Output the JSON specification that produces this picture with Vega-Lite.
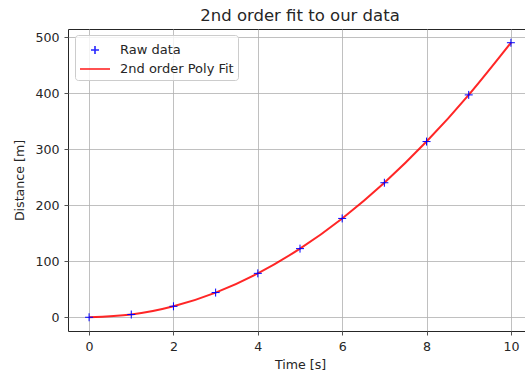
{
  "$schema": "https://vega.github.io/schema/vega-lite/v6.json",
  "width": 464,
  "height": 302,
  "autosize": {"type": "none"},
  "padding": {"left": 68, "top": 29, "right": 0, "bottom": 50},
  "background": "white",
  "title": {"text": "2nd order fit to our data", "font": "DejaVu Sans", "fontSize": 16.5, "fontWeight": "normal", "color": "#262626", "offset": 5, "anchor": "middle"},
  "data": {"values": [
    {"t": 0, "d": 0, "series": "Raw data"},
    {"t": 1, "d": 4.9, "series": "Raw data"},
    {"t": 2, "d": 19.6, "series": "Raw data"},
    {"t": 3, "d": 44.1, "series": "Raw data"},
    {"t": 4, "d": 78.4, "series": "Raw data"},
    {"t": 5, "d": 122.5, "series": "Raw data"},
    {"t": 6, "d": 176.4, "series": "Raw data"},
    {"t": 7, "d": 240.1, "series": "Raw data"},
    {"t": 8, "d": 313.6, "series": "Raw data"},
    {"t": 9, "d": 396.9, "series": "Raw data"},
    {"t": 10, "d": 490, "series": "Raw data"},
    {"t": 0, "d": 0, "series": "2nd order Poly Fit"},
    {"t": 1, "d": 4.9, "series": "2nd order Poly Fit"},
    {"t": 2, "d": 19.6, "series": "2nd order Poly Fit"},
    {"t": 3, "d": 44.1, "series": "2nd order Poly Fit"},
    {"t": 4, "d": 78.4, "series": "2nd order Poly Fit"},
    {"t": 5, "d": 122.5, "series": "2nd order Poly Fit"},
    {"t": 6, "d": 176.4, "series": "2nd order Poly Fit"},
    {"t": 7, "d": 240.1, "series": "2nd order Poly Fit"},
    {"t": 8, "d": 313.6, "series": "2nd order Poly Fit"},
    {"t": 9, "d": 396.9, "series": "2nd order Poly Fit"},
    {"t": 10, "d": 490, "series": "2nd order Poly Fit"}
  ]},
  "encoding": {
    "x": {"field": "t", "type": "quantitative", "scale": {"domain": [-0.5, 10.5], "nice": false, "zero": false},
      "axis": {"title": "Time [s]", "values": [0, 2, 4, 6, 8, 10]}},
    "y": {"field": "d", "type": "quantitative", "scale": {"domain": [-24.5, 514.5], "nice": false, "zero": false},
      "axis": {"title": "Distance [m]", "values": [0, 100, 200, 300, 400, 500]}},
    "color": {"field": "series", "type": "nominal",
      "scale": {"domain": ["Raw data", "2nd order Poly Fit"], "range": ["#0000ff", "#ff0000"]},
      "legend": {"title": null}}
  },
  "layer": [
    {
      "transform": [{"filter": "datum.series === '2nd order Poly Fit'"}],
      "mark": {"type": "line", "interpolate": "natural", "strokeWidth": 2, "opacity": 0.85}
    },
    {
      "transform": [{"filter": "datum.series === 'Raw data'"}],
      "mark": {"type": "point", "filled": false, "strokeWidth": 1, "size": 400, "opacity": 1},
      "encoding": {
        "shape": {"field": "series", "type": "nominal",
          "scale": {"domain": ["Raw data", "2nd order Poly Fit"], "range": ["M-0.4,0L0.4,0M0,-0.4L0,0.4", "M-1.5,0L1.5,0"]},
          "legend": {"title": null}}
      }
    }
  ],
  "config": {
    "view": {"stroke": "#262626", "strokeWidth": 1},
    "axis": {
      "grid": true, "gridColor": "#b0b0b0", "gridWidth": 0.8,
      "domain": false, "ticks": true, "tickColor": "#262626", "tickSize": 4, "tickWidth": 0.8,
      "labelFont": "DejaVu Sans", "labelFontSize": 12.6, "labelColor": "#262626",
      "titleFont": "DejaVu Sans", "titleFontSize": 12.6, "titleFontWeight": "normal", "titleColor": "#262626"
    },
    "axisX": {"titlePadding": 6, "labelPadding": 5},
    "axisY": {"titlePadding": 8, "labelPadding": 5},
    "legend": {
      "orient": "none", "legendX": 7, "legendY": 6,
      "labelFont": "DejaVu Sans", "labelFontSize": 13, "labelColor": "#262626",
      "fillColor": "rgba(255,255,255,0.8)", "strokeColor": "#cccccc", "cornerRadius": 3,
      "padding": 4, "rowPadding": 0, "symbolSize": 400, "symbolStrokeWidth": 1.6, "symbolOffset": 5, "labelOffset": 14
    }
  }
}
